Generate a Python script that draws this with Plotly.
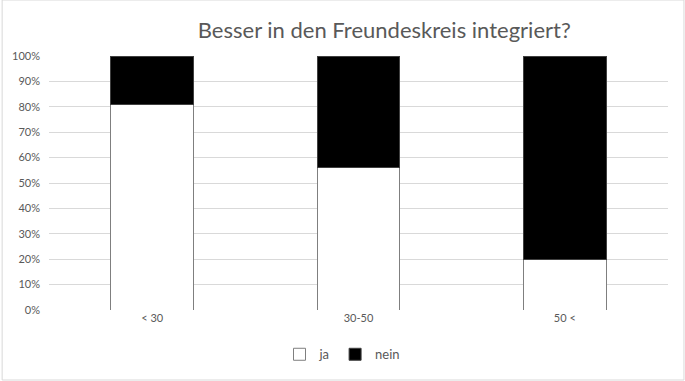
import plotly.graph_objects as go

categories = ["< 30", "30-50", "50 <"]
ja = [0.81, 0.56, 0.20]
nein = [0.19, 0.44, 0.80]
y_ticks = [0, 0.1, 0.2, 0.3, 0.4, 0.5, 0.6, 0.7, 0.8, 0.9, 1.0]

fig = go.Figure()
fig.add_bar(x=categories, y=ja, name="ja",
            marker=dict(color="white", line=dict(color="#7f7f7f", width=1)))
fig.add_bar(x=categories, y=nein, name="nein",
            marker=dict(color="black", line=dict(color="#404040", width=1)))

fig.update_layout(
    width=685, height=381,
    barmode="stack", bargap=0.6,
    paper_bgcolor="white", plot_bgcolor="white",
    margin=dict(l=47, r=17, t=56, b=71),
    font=dict(family="Lato, Open Sans, sans-serif", color="#595959", size=10),
    title=dict(text="Besser in den Freundeskreis integriert?", x=0.561, xref="container",
               xanchor="center", y=0.92, yanchor="middle",
               font=dict(size=22, color="#595959")),
    legend=dict(orientation="h", xref="container", x=0.5, xanchor="center",
                yref="container", y=0.07, yanchor="middle", itemwidth=30,
                font=dict(size=13, color="#595959"), traceorder="normal"),
    shapes=[dict(type="rect", xref="paper", yref="paper", x0=-47/621, x1=1+16/621,
                 y0=-70/254, y1=1+56/254, line=dict(color="#d9d9d9", width=1))],
)
fig.update_yaxes(range=[0, 1], tickvals=y_ticks, tickformat=".0%",
                 showgrid=True, gridcolor="#d9d9d9", gridwidth=1,
                 zeroline=False, showline=False, ticks="", tickfont=dict(size=11),
                 ticklabelstandoff=8)
fig.update_xaxes(showgrid=False, showline=False, ticks="", tickfont=dict(size=11))

fig.write_html("out.html", post_script="document.body.style.margin='0';",
               config={"displayModeBar": False})
